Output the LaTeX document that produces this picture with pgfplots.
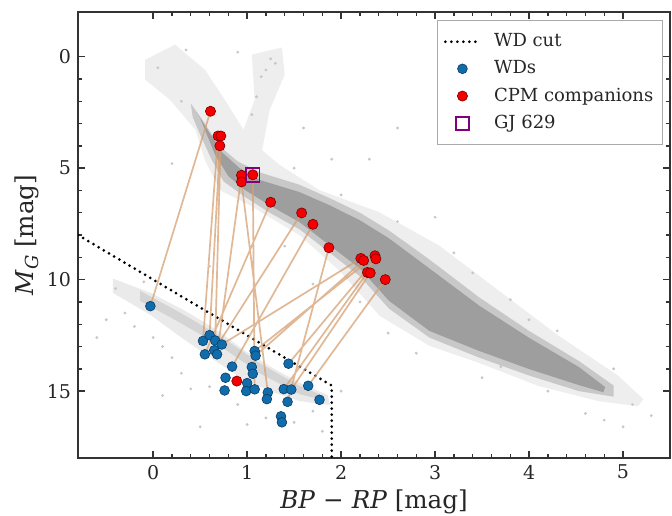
\documentclass[border=0pt]{standalone}
\usepackage{pgfplots}
\pgfplotsset{compat=1.18}
\usepackage{fontspec}
\setmainfont{DejaVu Serif}
\definecolor{txt}{RGB}{38,38,38}
\definecolor{axc}{RGB}{51,51,51}
\definecolor{wdblue}{RGB}{16,108,170}
\definecolor{wdedge}{RGB}{10,60,100}
\definecolor{cpmred}{RGB}{245,0,0}
\definecolor{cpmedge}{RGB}{120,0,0}
\definecolor{gjpurple}{RGB}{128,0,128}
\definecolor{linktan}{RGB}{214,160,115}
\definecolor{mscore}{RGB}{158,158,158}
\definecolor{msmid}{RGB}{200,200,200}
\definecolor{haze}{RGB}{238,238,238}
\definecolor{wdhaze}{RGB}{234,234,234}
\definecolor{wdstreak}{RGB}{212,212,212}
\definecolor{field}{RGB}{200,200,200}
\definecolor{legframe}{RGB}{170,170,170}
\begin{document}
\begin{tikzpicture}
\begin{axis}[
  scale only axis,
  width=296pt, height=223pt,
  xmin=-0.8, xmax=5.5, ymin=-2, ymax=18,
  y dir=reverse,
  enlargelimits=false,
  xtick={0,1,2,3,4,5}, ytick={0,5,10,15},
  minor x tick num=4, minor y tick num=4,
  tick align=inside,
  major tick length=3.5pt, minor tick length=2pt,
  every tick/.style={axc, line width=0.7pt},
  axis line style={axc, line width=1pt},
  tick label style={font=\fontsize{9.5}{11}\selectfont, text=txt},
  /pgf/number format/assume math mode=true,
  xlabel={{\itshape BP}\,\,−\,\,{\itshape RP}\ [mag]},
  ylabel={{\itshape M}\raisebox{-0.4ex}{\fontsize{9}{10}\selectfont\itshape G}\ [mag]},
  every axis x label/.style={at={(axis description cs:0.5,0)}, anchor=center, yshift=-22pt,
     font=\fontsize{12.3}{14}\selectfont, text=txt},
  every axis y label/.style={at={(axis description cs:-0.087,0.5)}, anchor=center, rotate=90,
     font=\fontsize{12.3}{14}\selectfont, text=txt},
  legend style={at={(0.988,0.982)}, anchor=north east, draw=legframe, line width=0.6pt, fill=white,
    font=\fontsize{9}{10.5}\selectfont, text=txt, row sep=1.5pt, inner xsep=3pt, inner ysep=4.5pt,
    nodes={inner xsep=1.5pt}},
  legend cell align=left,
]
% ---- background: sparse halo of the main sequence
\addplot[fill=haze, draw=none, forget plot] coordinates {
 (-0.085,0.14) (0.233,-0.54) (0.551,0.59) (0.763,1.94) (1.029,3.74) (1.347,4.86) (1.771,5.99)
 (2.407,6.98) (3.043,8.47) (3.680,10.50) (4.316,12.52) (4.952,14.32) (5.217,15.36)
 (5.16,15.68) (4.74,15.45) (4.10,14.77) (3.47,13.74) (2.94,12.97) (2.41,11.62) (1.98,9.59)
 (1.56,8.02) (1.03,6.67) (0.71,5.99) (0.55,4.64) (0.45,3.29) (0.18,1.94) (-0.085,1.04)} -- cycle;
% giant branch / clump haze
\addplot[fill=haze, draw=none, forget plot] coordinates {
 (0.92,3.74) (1.08,1.94) (1.05,-0.09) (1.37,-0.41) (1.40,0.81) (1.24,2.39) (1.16,4.19)} -- cycle;
% intermediate density
\addplot[fill=msmid, draw=none, forget plot] coordinates {
 (0.40,2.1) (0.55,3.0) (0.70,4.0) (0.90,4.7) (1.14,5.2) (1.56,5.75) (1.88,6.35) (2.20,7.0)
 (2.51,7.8) (2.94,9.1) (3.47,10.8) (4.00,12.3) (4.53,13.65) (4.90,14.75)
 (4.90,15.25) (4.53,15.0) (4.00,14.3) (3.47,13.5) (2.94,12.6) (2.51,11.3) (2.20,9.85)
 (1.88,8.8) (1.56,7.75) (1.24,7.0) (0.98,6.3) (0.75,5.6) (0.62,4.6) (0.50,3.5) (0.42,2.7)} -- cycle;
% dense main-sequence core
\addplot[fill=mscore, draw=none, forget plot] coordinates {
 (0.46,2.48) (0.58,3.29) (0.73,4.28) (0.92,5.00) (1.14,5.54) (1.56,6.08) (1.88,6.67) (2.20,7.34)
 (2.51,8.15) (2.94,9.50) (3.47,11.17) (4.00,12.61) (4.53,13.92) (4.81,14.82)
 (4.79,15.05) (4.53,14.73) (4.00,14.01) (3.47,13.20) (2.94,12.30) (2.51,10.95) (2.20,9.50)
 (1.88,8.47) (1.56,7.43) (1.24,6.67) (0.98,5.99) (0.80,5.36) (0.66,4.41) (0.56,3.38) (0.50,2.75)} -- cycle;
% white-dwarf sequence
\addplot[fill=wdhaze, draw=none, forget plot] coordinates {
 (-0.43,9.95) (-0.03,10.59) (0.34,11.40) (0.66,12.21) (0.98,13.20) (1.29,14.01) (1.61,14.73) (1.86,15.18)
 (1.88,15.63) (1.56,15.45) (1.24,15.00) (0.92,14.37) (0.60,13.47) (0.29,12.57) (-0.03,11.58) (-0.43,10.59)} -- cycle;
\addplot[fill=wdstreak, draw=none, forget plot] coordinates {
 (-0.14,10.50) (0.29,11.49) (0.71,12.52) (1.13,13.74) (1.56,14.77) (1.77,15.14)
 (1.77,15.36) (1.56,15.14) (1.13,14.19) (0.71,12.97) (0.29,11.94) (-0.14,10.95)} -- cycle;
% sparse field points
\addplot[field, only marks, mark=*, mark size=0.5pt, forget plot] coordinates {
 (-0.3,11.5) (-0.2,12.1) (0.0,12.6) (0.1,13.0) (0.2,13.5) (-0.4,10.4) (0.3,14.2) (0.6,14.8)
 (0.9,15.6) (1.2,16.2) (1.5,16.4) (1.7,15.9) (0.5,16.6) (2.0,15.0) (-0.5,11.8) (-0.1,10.1)
 (1.5,5.0) (2.0,6.2) (2.6,7.4) (3.2,8.8) (3.8,10.9) (4.3,12.3) (4.9,14.0) (5.1,15.6) (5.3,16.1)
 (4.6,16.0) (3.5,14.4) (2.8,13.3) (2.2,11.0) (1.7,10.2) (1.9,4.6) (1.6,3.2) (0.2,4.8) (0.3,2.0)
 (2.6,3.2) (0.9,-0.2) (1.3,0.3) (1.2,0.6) (1.25,0.1) (1.15,0.9) (1.1,1.8) (1.05,2.6) (0.05,0.5)
 (0.35,-0.3) (3.7,13.9) (4.2,15.0) (5.0,16.6) (4.8,16.3) (2.5,12.4) (3.0,7.2) (1.4,8.5) (0.6,9.4)
 (-0.6,12.6) (0.4,14.9) (1.0,16.5) (1.8,16.8) (0.1,15.2) (2.3,4.6) (3.4,9.7) (4.0,11.8)} ;
% ---- WD cut
\addplot[black, line width=1.5pt, dash pattern=on 0pt off 3pt, line cap=round] coordinates {
 (-0.8,8.0) (1.9,14.75) (1.9,18)};
\addlegendentry{\hspace{5pt}WD cut}
% ---- links between companions
\addplot[linktan, line width=0.85pt, opacity=0.75, unbounded coords=jump, forget plot] coordinates {
 (0.61,2.45) (-0.03,11.19) (nan,nan)
 (0.69,3.56) (0.53,12.75) (nan,nan)
 (0.72,3.56) (0.66,12.73) (nan,nan)
 (0.71,4.00) (0.60,12.49) (nan,nan)
 (0.94,5.32) (0.68,13.35) (nan,nan)
 (0.94,5.62) (1.22,15.06) (nan,nan)
 (1.06,5.30) (1.08,14.92) (nan,nan)
 (1.25,6.53) (0.55,13.35) (nan,nan)
 (1.58,7.01) (0.65,13.17) (nan,nan)
 (1.70,7.52) (0.84,13.90) (nan,nan)
 (1.87,8.57) (1.43,15.48) (nan,nan)
 (2.21,9.05) (0.73,12.91) (nan,nan)
 (2.24,9.14) (1.09,13.41) (nan,nan)
 (2.36,8.93) (1.08,13.20) (nan,nan)
 (2.37,9.07) (1.44,13.77) (nan,nan)
 (2.28,9.68) (1.39,14.91) (nan,nan)
 (2.31,9.70) (1.47,14.93) (nan,nan)
 (2.47,10.00) (1.65,14.76) (nan,nan)
 (0.89,14.55) (1.00,14.64)};
% ---- WDs
\addplot[only marks, mark=*, mark size=2.45pt, mark options={fill=wdblue, draw=wdedge, line width=0.3pt}] coordinates {
 (-0.03,11.19) (0.53,12.75) (0.60,12.49) (0.66,12.73) (0.73,12.91) (0.55,13.35) (0.65,13.17)
 (0.68,13.35) (0.84,13.90) (0.77,14.40) (0.76,14.97) (1.08,13.20) (1.09,13.41) (1.05,13.92)
 (1.06,14.22) (1.44,13.77) (1.00,14.64) (0.99,15.00) (1.08,14.92) (1.22,15.06) (1.21,15.36)
 (1.39,14.91) (1.47,14.93) (1.43,15.48) (1.65,14.76) (1.77,15.39) (1.36,16.13) (1.37,16.40)};
\addlegendentry{\hspace{5pt}WDs}
% ---- CPM companions
\addplot[only marks, mark=*, mark size=2.55pt, mark options={fill=cpmred, draw=cpmedge, line width=0.3pt}] coordinates {
 (0.61,2.45) (0.69,3.56) (0.72,3.56) (0.71,4.00) (0.94,5.32) (0.94,5.62) (1.06,5.30)
 (1.25,6.53) (1.58,7.01) (1.70,7.52) (1.87,8.57) (2.21,9.05) (2.24,9.14) (2.36,8.93)
 (2.37,9.07) (2.28,9.68) (2.31,9.70) (2.47,10.00) (0.89,14.55)};
\addlegendentry{\hspace{5pt}CPM companions\hspace{0.5pt}}
% ---- GJ 629
\addplot[only marks, mark=square, mark size=3.4pt, mark options={draw=gjpurple, line width=0.9pt}] coordinates {
 (1.06,5.30)};
\addlegendentry{\hspace{5pt}GJ 629}
\end{axis}
\pgfresetboundingbox
\path ([xshift=-39pt,yshift=-28.5pt]current axis.south west) rectangle ([xshift=1pt,yshift=6pt]current axis.north east);
\end{tikzpicture}
\end{document}
